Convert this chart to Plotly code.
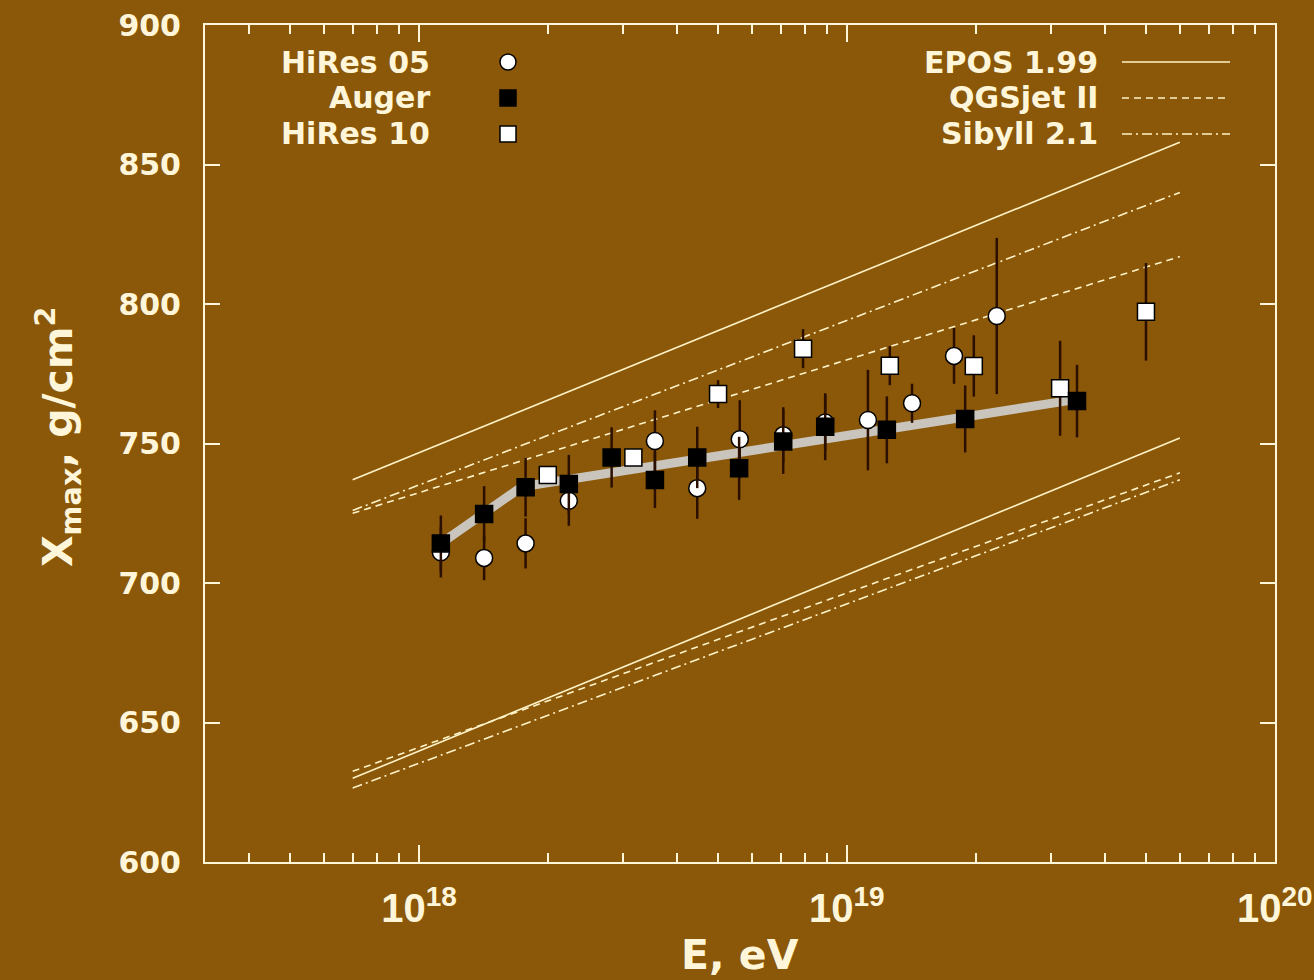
import plotly.graph_objects as go

BG = "#8B5708"
FG = "#FFF6DA"
LINE = "#FFF3C8"
ERR = "#2B0F00"
FONT = "DejaVu Sans"
XFONT = "Liberation Sans"

# ---- model predictions (proton: upper band, iron: lower band) ----
model_E = [7e17, 6e19]
epos_p = [737, 858]
qgs_p = [725, 817]
sib_p = [726, 840]
epos_fe = [630, 752]
qgs_fe = [632.5, 739.5]
sib_fe = [626.5, 737]

# ---- broken-line fit to Auger ----
fit_E = [1.12e18, 1.74e18, 3.5e19]
fit_X = [714, 734.5, 766]

# ---- HiRes 05 (open circles) ----
hires05_E = [1.125e18, 1.42e18, 1.775e18, 2.24e18, 3.56e18, 4.47e18, 5.62e18,
             7.1e18, 8.9e18, 1.12e19, 1.42e19, 1.78e19, 2.24e19]
hires05_X = [711, 709, 714.2, 729.5, 750.9, 734, 751.5, 753, 757.5, 758.4,
             764.4, 781.4, 795.7]
hires05_err = [9, 8, 9, 9, 11, 11, 14, 10, 10, 18, 7, 10, 28]

# ---- Auger (filled squares) ----
auger_E = [1.125e18, 1.42e18, 1.775e18, 2.24e18, 2.82e18, 3.56e18, 4.47e18,
           5.6e18, 7.1e18, 8.9e18, 1.24e19, 1.89e19, 3.45e19]
auger_X = [714.2, 724.7, 734.3, 735.5, 745.0, 736.9, 745.0, 741.1, 750.7,
           756.0, 754.9, 758.8, 765.2]
auger_err = [10, 10, 10.5, 10.4, 10.8, 10, 11, 11.3, 11.6, 12, 12, 12, 13]

# ---- HiRes 10 (open squares) ----
hires10_E = [2.0e18, 3.17e18, 5.0e18, 7.9e18, 1.26e19, 1.98e19, 3.15e19, 5.0e19]
hires10_X = [738.7, 745.0, 767.7, 784.0, 777.9, 777.8, 769.8, 797.2]
hires10_err = [3, 3, 5, 7, 7, 11, 17, 17.5]

# ---- axis ticks ----
major_ticks = [1e18, 1e19, 1e20]
minor_ticks = [m * 10.0 ** d for d in (17, 18, 19) for m in range(2, 10)
               if m * 10.0 ** d > 3.2e17]

fig = go.Figure()

def model(E, X, dash):
    fig.add_trace(go.Scatter(x=E, y=X, mode="lines",
                             line=dict(color=LINE, width=1.6, dash=dash),
                             showlegend=False, hoverinfo="skip"))

for X, d in [(epos_p, "solid"), (qgs_p, "7px,5px"), (sib_p, "10px,4px,2px,4px"),
             (epos_fe, "solid"), (qgs_fe, "7px,5px"), (sib_fe, "10px,4px,2px,4px")]:
    model(model_E, X, d)

# invisible traces so the top axes (x2: decades, x3: minor) are drawn
for ax in ("x2", "x3"):
    fig.add_trace(go.Scatter(x=model_E, y=epos_p, mode="markers", xaxis=ax, yaxis="y",
                             marker=dict(opacity=0, size=1),
                             showlegend=False, hoverinfo="skip"))

fig.add_trace(go.Scatter(x=fit_E, y=fit_X, mode="lines",
                         line=dict(color="#C9C5BD", width=9),
                         showlegend=False, hoverinfo="skip"))

def points(E, X, err, symbol, color):
    fig.add_trace(go.Scatter(
        x=E, y=X, mode="markers",
        marker=dict(symbol=symbol, size=17, color=color,
                    line=dict(color="black", width=1.5)),
        error_y=dict(type="data", array=err, visible=True, color=ERR,
                     thickness=2.5, width=0),
        showlegend=False))

points(hires05_E, hires05_X, hires05_err, "circle", "white")
points(hires10_E, hires10_X, hires10_err, "square", "white")
points(auger_E, auger_X, auger_err, "square", "black")

# ---- legends (text + symbol) ----
L, R, T, B = 205, 1275, 25, 862
def px(xp):
    return (xp - L) / (R - L)
def py(yp):
    return 1 - (yp - T) / (B - T)

ann = []
shapes = []
left_labels = ["HiRes 05", "Auger", "HiRes 10"]
right_labels = ["EPOS 1.99", "QGSjet II", "Sibyll 2.1"]
rows = [62, 98, 134]
for lab, yy in zip(left_labels, rows):
    ann.append(dict(text=lab, x=px(432), y=py(yy), xref="paper", yref="paper",
                    xanchor="right", yanchor="middle", showarrow=False,
                    font=dict(family=FONT, size=30, color=FG, weight="bold")))
for lab, yy in zip(right_labels, rows):
    ann.append(dict(text=lab, x=px(1100), y=py(yy), xref="paper", yref="paper",
                    xanchor="right", yanchor="middle", showarrow=False,
                    font=dict(family=FONT, size=30, color=FG, weight="bold")))

sym = [("circle", "white"), ("rect", "black"), ("rect", "white")]
for (s, c), yy in zip(sym, rows):
    shapes.append(dict(type=s, xref="paper", yref="paper",
                       xsizemode="pixel", ysizemode="pixel",
                       xanchor=px(508), yanchor=py(yy),
                       x0=-8, x1=8, y0=-8, y1=8,
                       fillcolor=c, line=dict(color="black", width=1.5),
                       layer="above"))
for d, yy in zip(["solid", "7px,5px", "10px,4px,2px,4px"], rows):
    shapes.append(dict(type="line", xref="paper", yref="paper",
                       x0=px(1122), x1=px(1230), y0=py(yy), y1=py(yy),
                       line=dict(color=LINE, width=1.6, dash=d), layer="above"))

# axis titles
ann.append(dict(text="E, eV", x=0.5, y=py(955), xref="paper", yref="paper",
                xanchor="center", yanchor="middle", showarrow=False,
                font=dict(family=FONT, size=41, color=FG, weight="bold")))
ann.append(dict(text="X<sub>max</sub>, g/cm<sup>2</sup>", x=px(58), y=py(437),
                xref="paper", yref="paper", textangle=-90,
                xanchor="center", yanchor="middle", showarrow=False,
                font=dict(family=FONT, size=41, color=FG, weight="bold")))

XR = [17.5, 20.0005]
base = dict(type="log", range=XR, showgrid=False, zeroline=False,
            automargin=False, tickwidth=1.5, ticks="inside")

fig.update_layout(
    width=1314, height=980,
    margin=dict(l=L, r=1314 - R, t=T, b=980 - B),
    paper_bgcolor=BG, plot_bgcolor=BG,
    annotations=ann, shapes=shapes,
    showlegend=False,
    xaxis=dict(**base, dtick=1, exponentformat="power", tickcolor=FG,
               showline=True, linecolor=FG, linewidth=2, ticklen=17,
               minor=dict(ticks="inside", ticklen=9, tickwidth=1.5, tickcolor=FG,
                          dtick="D1", showgrid=False),
               tickfont=dict(family=XFONT, size=32, color=FG, weight="bold"),
               ticklabelstandoff=12, ticklabeloverflow="allow"),
    xaxis2=dict(**base, overlaying="x", side="top", anchor="y",
                tickmode="array", tickvals=major_ticks, ticklen=17,
                tickcolor="#FFF5D8", showline=True, linecolor=FG, linewidth=2,
                showticklabels=True, tickfont=dict(size=4, color=BG)),
    xaxis3=dict(**base, overlaying="x", side="top", anchor="y",
                tickmode="array", tickvals=minor_ticks, ticklen=9,
                tickcolor="#FFF5D8", showline=False,
                showticklabels=True, tickfont=dict(size=4, color=BG)),
    yaxis=dict(
        range=[600, 900], dtick=50, automargin=False,
        showgrid=False, zeroline=False,
        showline=True, linecolor=FG, linewidth=2, mirror="ticks",
        ticks="inside", ticklen=15, tickwidth=1.5, tickcolor=FG,
        tickfont=dict(family=FONT, size=30, color=FG, weight="bold"),
        ticklabelstandoff=16,
    ),
)

fig.write_html("out.html")
